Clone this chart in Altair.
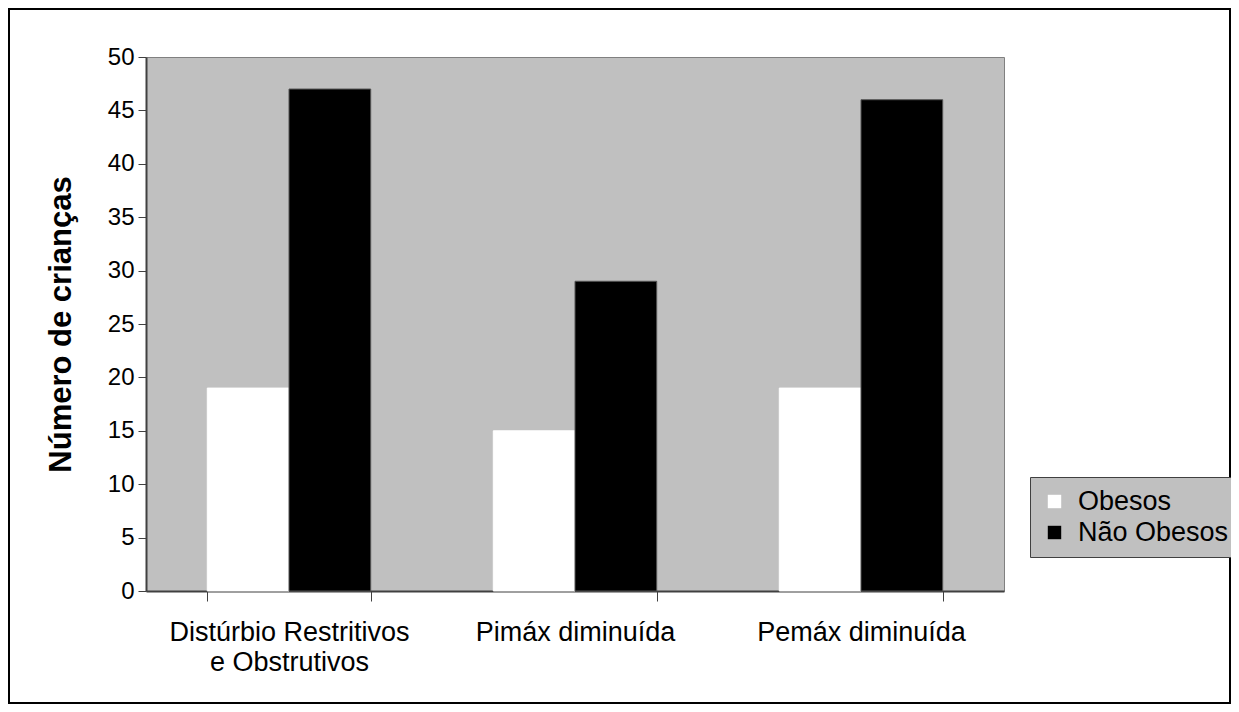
import altair as alt
import pandas as pd

categories = ["Distúrbio Restritivos e Obstrutivos", "Pimáx diminuída", "Pemáx diminuída"]
groups = ["Obesos", "Não Obesos"]
obesos = [19, 15, 19]
nao_obesos = [47, 29, 46]
y_ticks = list(range(0, 55, 5))

rows = []
for c, o, n in zip(categories, obesos, nao_obesos):
    rows.append({"categoria": c, "grupo": groups[0], "valor": o})
    rows.append({"categoria": c, "grupo": groups[1], "valor": n})
df = pd.DataFrame(rows)

FONT = "Liberation Sans"
W, H = 858, 534

label_expr = ("datum.label == 'Distúrbio Restritivos e Obstrutivos' ? "
              "['Distúrbio Restritivos', 'e Obstrutivos'] : datum.label")

bars = alt.Chart(df).mark_bar(strokeWidth=1).encode(
    x=alt.X("categoria:N", sort=categories, title=None,
            scale=alt.Scale(paddingInner=3/7, paddingOuter=1.5/7),
            axis=alt.Axis(labelAngle=0, labelExpr=label_expr, tickBand="extent",
                          labelFontSize=27, labelFont=FONT, labelColor="black",
                          labelPadding=18, labelLineHeight=30, labelLimit=500,
                          tickSize=10, tickColor="#404040", domainColor="#404040",
                          domainWidth=2, tickWidth=1)),
    xOffset=alt.XOffset("grupo:N", sort=groups, scale=alt.Scale(paddingInner=0, paddingOuter=0)),
    y=alt.Y("valor:Q", title="Número de crianças",
            scale=alt.Scale(domain=[0, 50], nice=False),
            axis=alt.Axis(values=y_ticks, grid=False, labelFontSize=24, labelFont=FONT,
                          labelColor="black", labelPadding=4, tickSize=8,
                          tickColor="#404040", domainColor="#404040", domainWidth=2,
                          titleFont=FONT, titleFontSize=31, titleFontWeight="bold",
                          titleColor="black", titlePadding=30)),
    color=alt.Color("grupo:N", sort=groups,
                    scale=alt.Scale(domain=groups, range=["#ffffff", "#000000"]),
                    legend=alt.Legend(title=None, orient="none", legendX=884, legendY=420,
                                      fillColor="#c0c0c0", strokeColor="#404040",
                                      padding=11, symbolType="square", symbolSize=180,
                                      symbolStrokeWidth=0, labelFontSize=27, labelFont=FONT,
                                      labelColor="black", rowPadding=3, symbolOffset=0,
                                      labelOffset=10)),
    stroke=alt.Stroke("grupo:N", sort=groups,
                      scale=alt.Scale(domain=groups, range=["#ffffff", "#555555"]),
                      legend=None),
)

border = alt.Chart(pd.DataFrame({"a": [0]})).mark_rect(
    fillOpacity=0, stroke="black", strokeWidth=2
).encode(
    x=alt.value(-137), x2=alt.value(1084), y=alt.value(-48), y2=alt.value(646)
)

chart = alt.layer(bars, border).properties(
    width=W, height=H,
    autosize=alt.AutoSizeParams(type="none"),
    padding={"left": 138, "top": 49, "right": 227, "bottom": 113},
    background="white",
).configure_view(fill="#c0c0c0", stroke="#808080", strokeWidth=1)

chart.save("out.html", embed_options={"renderer": "svg", "actions": False})
